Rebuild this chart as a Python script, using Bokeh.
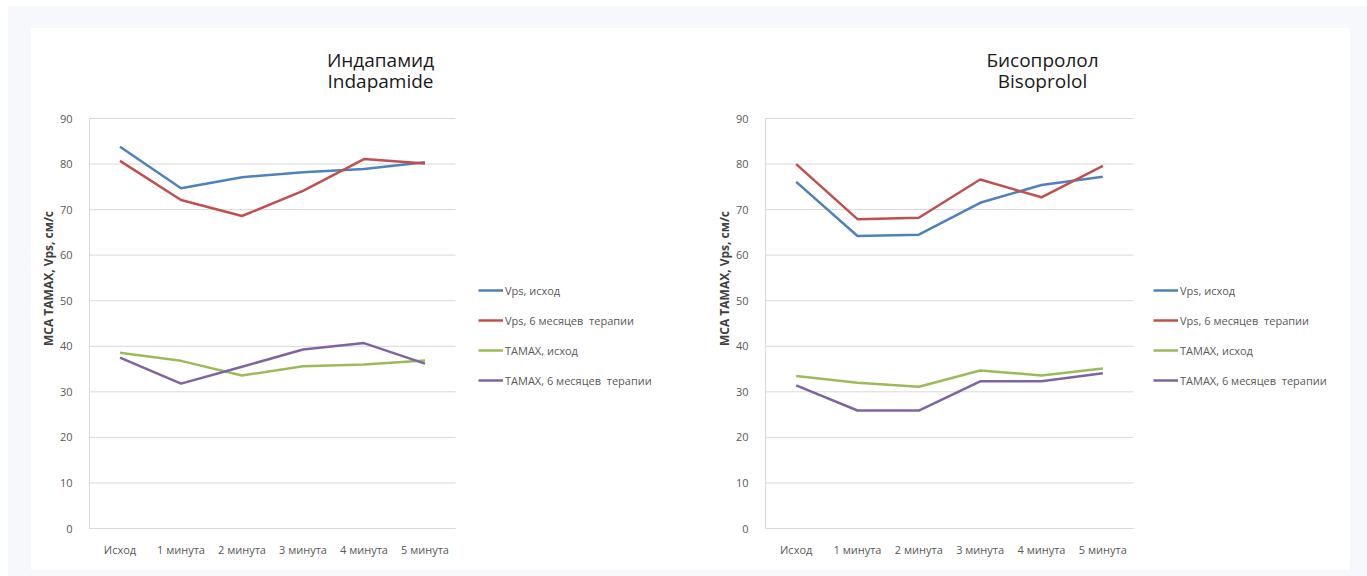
from bokeh.plotting import figure
from bokeh.models import Legend, LegendItem, Label, Range1d, FixedTicker
from bokeh.layouts import row
from bokeh.embed import file_html
from bokeh.resources import INLINE

# Categories along the x axis (baseline and minutes of the test)
categories = ["Исход", "1 минута", "2 минута", "3 минута", "4 минута", "5 минута"]
y_ticks = [0, 10, 20, 30, 40, 50, 60, 70, 80, 90]

series_names = [
    "Vps, исход",
    "Vps, 6 месяцев  терапии",
    "ТАМАХ, исход",
    "ТАМАХ, 6 месяцев  терапии",
]

# Indapamide group, cm/s
indapamide_vps_base = [83.8, 74.7, 77.1, 78.2, 78.9, 80.4]
indapamide_vps_6m = [80.7, 72.1, 68.6, 74.1, 81.1, 80.1]
indapamide_tamax_base = [38.6, 36.8, 33.6, 35.6, 36.0, 36.9]
indapamide_tamax_6m = [37.5, 31.8, 35.5, 39.3, 40.7, 36.2]

# Bisoprolol group, cm/s
bisoprolol_vps_base = [76.1, 64.2, 64.5, 71.5, 75.4, 77.2]
bisoprolol_vps_6m = [80.0, 67.9, 68.2, 76.6, 72.7, 79.6]
bisoprolol_tamax_base = [33.5, 32.0, 31.1, 34.7, 33.6, 35.1]
bisoprolol_tamax_6m = [31.4, 25.9, 25.9, 32.3, 32.3, 34.1]

colors = ["#4f81bd", "#c0504d", "#9bbb59", "#8064a2"]
FONT = "Open Sans"
GRID = "#d9d9d9"
TEXT = "#595959"

Y_MAX = 90
PLOT_H = 410      # pixel height of the 0..90 value area


def make_chart(title_lines, series, width, border_left, cat_px, title_cx, legend_x):
    height = 542
    border_bottom = 42
    frame_h = height - border_bottom
    frame_w = width - border_left
    n = len(categories)
    xs = list(range(1, n + 1))

    # The frame reaches up and right so the title and legend sit inside it;
    # axes and grid lines are bounded to the value area.
    p = figure(
        x_range=Range1d(0.5, 0.5 + frame_w / cat_px),
        y_range=Range1d(0, Y_MAX * frame_h / PLOT_H),
        width=width, height=height,
        min_border_left=border_left, min_border_right=0,
        min_border_top=0, min_border_bottom=border_bottom,
        output_backend="svg", toolbar_location=None,
        background_fill_color="white", border_fill_color="white",
    )
    p.outline_line_color = None
    p.xgrid.grid_line_color = None
    p.ygrid.grid_line_color = None

    p.segment(x0=0.5, x1=n + 0.5, y0=y_ticks, y1=y_ticks,
              line_color=GRID, line_width=1)

    p.yaxis.bounds = (0, Y_MAX)
    p.yaxis.ticker = FixedTicker(ticks=y_ticks)
    p.yaxis.axis_line_color = GRID
    p.yaxis.major_tick_line_color = None
    p.yaxis.minor_tick_line_color = None
    p.yaxis.major_label_standoff = 11
    p.yaxis.major_label_text_font = FONT
    p.yaxis.major_label_text_font_size = "11px"
    p.yaxis.major_label_text_color = TEXT
    p.yaxis.axis_label = "МСА ТАМАХ, Vps, см/с"
    p.yaxis.axis_label_text_font = FONT
    p.yaxis.axis_label_text_font_style = "bold"
    p.yaxis.axis_label_text_font_size = "12px"
    p.yaxis.axis_label_text_color = "#404040"
    p.yaxis.axis_label_standoff = 0

    p.xaxis.bounds = (0.5, n + 0.5)
    p.xaxis.ticker = FixedTicker(ticks=xs)
    p.xaxis.major_label_overrides = {x: c for x, c in zip(xs, categories)}
    p.xaxis.axis_line_color = GRID
    p.xaxis.major_tick_line_color = None
    p.xaxis.minor_tick_line_color = None
    p.xaxis.major_label_standoff = 7
    p.xaxis.major_label_text_font = FONT
    p.xaxis.major_label_text_font_size = "11px"
    p.xaxis.major_label_text_color = TEXT

    items = []
    for name, vals, col in zip(series_names, series, colors):
        r = p.line(xs, vals, line_color=col, line_width=2.5)
        items.append(LegendItem(label=name, renderers=[r]))

    legend = Legend(
        items=items, location=(legend_x, 138),
        glyph_width=25, glyph_height=20, label_height=20, spacing=10,
        padding=0, margin=0, label_standoff=2,
        label_text_font=FONT, label_text_font_size="11px",
        label_text_color=TEXT,
        background_fill_alpha=0, border_line_color=None,
    )
    p.add_layout(legend, "center")

    # Two-line title above the value area
    for text, y in zip(title_lines, (frame_h - 31, frame_h - 52)):
        p.add_layout(Label(
            x=title_cx - border_left, y=y,
            x_units="screen", y_units="screen", text=text,
            text_align="center", text_baseline="alphabetic",
            text_font=FONT, text_font_size="19px", text_color="#1a1a1a",
        ))
    return p


p1 = make_chart(
    ["Индапамид", "Indapamide"],
    [indapamide_vps_base, indapamide_vps_6m, indapamide_tamax_base, indapamide_tamax_6m],
    width=669, border_left=58, cat_px=61.0, title_cx=380 - 31, legend_x=389,
)
p2 = make_chart(
    ["Бисопролол", "Bisoprolol"],
    [bisoprolol_vps_base, bisoprolol_vps_6m, bisoprolol_tamax_base, bisoprolol_tamax_6m],
    width=650, border_left=65, cat_px=61.33, title_cx=1042 - 700, legend_x=388,
)

panel = row(p1, p2, margin=(22, 17, 6, 23), styles={"background-color": "white"})
page = row(panel, margin=(6, 0, 0, 8), styles={"background-color": "#f7f8fc"})

open("out.html", "w").write(file_html(page, INLINE))
